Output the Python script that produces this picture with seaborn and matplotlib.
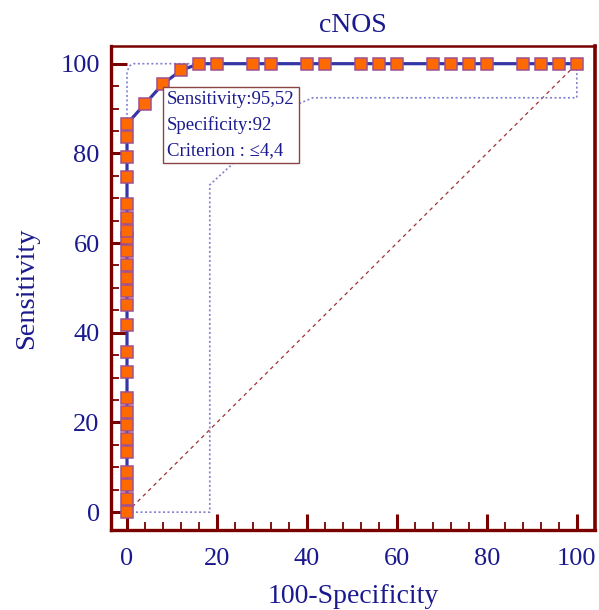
import matplotlib
matplotlib.use("Agg")
import matplotlib.pyplot as plt
import seaborn as sns
import pandas as pd

# ROC curve points for cNOS (100-Specificity, Sensitivity)
fpr = [0] * 25 + [4, 8, 12, 16, 20, 28, 32, 40, 44, 52, 56, 60, 68, 72, 76, 80, 88, 92, 96, 100]
sensitivity = [0.00, 2.99, 5.97, 8.96, 13.43, 16.42, 19.40, 22.39, 25.37, 31.34,
               35.82, 41.79, 46.27, 49.25, 52.24, 55.22, 58.21, 61.19, 62.69, 65.67,
               68.66, 74.63, 79.10, 83.58, 86.57,
               91.04, 95.52, 98.51, 100, 100, 100, 100, 100, 100, 100, 100, 100,
               100, 100, 100, 100, 100, 100, 100, 100]

# Confidence band around the curve
upper_x = [0, 0, 0.5, 1.5, 100]
upper_y = [86.57, 98.0, 99.5, 100, 100]
lower_x = [0, 18.4, 18.4, 38.0, 41.3, 100, 100]
lower_y = [0, 0, 73.0, 91.0, 92.4, 92.4, 100]

# Optimal cut-off
opt_fpr, opt_sens = 8, 95.52
opt_label = "Sensitivity:95,52\nSpecificity:92\nCriterion : \u22644,4"

major_ticks = [0, 20, 40, 60, 80, 100]

navy = "#1a1a8e"
maroon = "#7a0000"

sns.set_style("white")
plt.rcParams["font.family"] = ["Liberation Serif", "DejaVu Serif"]

fig = plt.figure(figsize=(5.99, 6.10), dpi=100)
ax = fig.add_axes([0.185, 0.131, 0.808, 0.794])

roc = pd.DataFrame({"fpr": fpr, "sens": sensitivity})

# chance diagonal
ax.plot([0, 100], [0, 100], color="#a03030", lw=0.9, ls=(0, (3, 3)), zorder=1)
# confidence band
ax.plot(upper_x, upper_y, color="#8080d0", lw=1.2, ls=(0, (1.2, 1.5)), zorder=1)
ax.plot(lower_x, lower_y, color="#8080d0", lw=1.2, ls=(0, (1.2, 1.5)), zorder=1)

sns.lineplot(data=roc, x="fpr", y="sens", ax=ax, sort=False, estimator=None,
             color="#3535a5", lw=2.3, marker="s", markersize=8.5,
             markerfacecolor="#ff6a00", markeredgecolor="#a0508f",
             markeredgewidth=1.1, zorder=3)

ax.annotate(opt_label, xy=(opt_fpr, opt_sens), xytext=(3, -5.0),
            textcoords="offset points", ha="left", va="top",
            fontsize=13.5, color=navy, linespacing=1.62, zorder=5,
            bbox=dict(boxstyle="square,pad=0.2", fc="white", ec="#8b4545", lw=1.0))

ax.set_xlim(-3.6, 104)
ax.set_ylim(-4.0, 104)
ax.set_xticks(major_ticks)
ax.set_yticks(major_ticks)
ax.set_xticks(range(0, 101, 4), minor=True)
ax.set_yticks(range(0, 101, 5), minor=True)

ax.tick_params(axis="both", which="major", direction="in", length=11.5, width=2.2,
               color=maroon, labelcolor=navy, labelsize=19)
ax.tick_params(axis="x", which="major", pad=13)
ax.tick_params(axis="y", which="major", pad=8)
ax.tick_params(axis="both", which="minor", direction="in", length=6, width=1.3,
               color=maroon)
ax.tick_params(which="both", bottom=True, left=True, top=False, right=False)

for side in ["left", "bottom", "top", "right"]:
    ax.spines[side].set_visible(True)
    ax.spines[side].set_color(maroon)
ax.spines["left"].set_linewidth(2.4)
ax.spines["bottom"].set_linewidth(2.4)
ax.spines["top"].set_linewidth(1.8)
ax.spines["right"].set_linewidth(2.6)

ax.set_title("cNOS", fontsize=20, color=navy, pad=10)
ax.set_xlabel("100-Specificity", fontsize=20, color=navy, labelpad=10)
ax.set_ylabel("Sensitivity", fontsize=20.5, color=navy, labelpad=15)

fig.savefig("out.png", dpi=100, facecolor="white")
